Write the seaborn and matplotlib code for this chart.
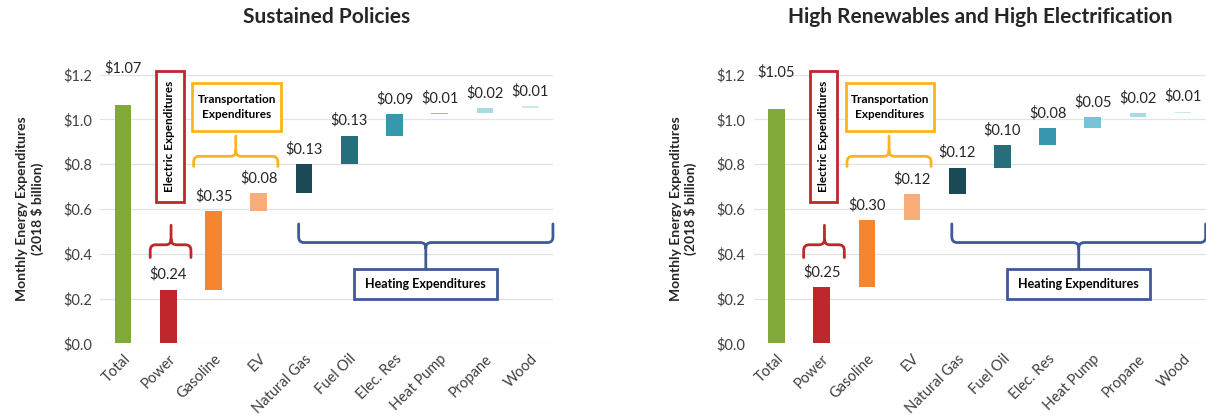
import numpy as np
import pandas as pd
import matplotlib
matplotlib.use("Agg")
import matplotlib.pyplot as plt
import seaborn as sns
from matplotlib.path import Path
from matplotlib.patches import PathPatch, Rectangle

# Données (milliards $ 2018 par mois)
categories = ["Total", "Power", "Gasoline", "EV", "Natural Gas", "Fuel Oil",
              "Elec. Res", "Heat Pump", "Propane", "Wood"]
sustained_vals = [1.066, 0.24, 0.35, 0.08, 0.13, 0.128, 0.094, 0.007, 0.021, 0.008]
highre_vals = [1.048, 0.25, 0.30, 0.117, 0.117, 0.10, 0.078, 0.049, 0.016, 0.008]
titres = ["Sustained Policies", "High Renewables and High Electrification"]
couleurs = ["#80A93A", "#C0272D", "#F5862F", "#F9AD79", "#1B4A56", "#276E7C",
            "#3797AD", "#7AC3D7", "#A8DAE6", "#C9E8F0"]

ROUGE = "#C0272D"
ORANGE = "#FBB41A"
BLEU = "#3F5A97"

sns.set_theme(style="white")
plt.rcParams["font.family"] = ["Lato", "DejaVu Sans"]


def accolade(ax, x0, x1, y, bout, pointe, xm, couleur, rx=0.12, ry=0.025):
    # accolade : barre horizontale, extremites vers "bout", tige vers "pointe"
    s = np.sign(bout - y)
    t = np.sign(pointe - y)
    verts = [(x0, bout), (x0, y + s * ry), (x0, y), (x0 + rx, y),
             (xm - rx, y), (xm, y), (xm, y + t * ry), (xm, pointe),
             (xm, y + t * ry), (xm, y), (xm + rx, y),
             (x1 - rx, y), (x1, y), (x1, y + s * ry), (x1, bout)]
    codes = [Path.MOVETO, Path.LINETO, Path.CURVE3, Path.CURVE3,
             Path.LINETO, Path.CURVE3, Path.CURVE3, Path.LINETO,
             Path.MOVETO, Path.CURVE3, Path.CURVE3,
             Path.LINETO, Path.CURVE3, Path.CURVE3, Path.LINETO]
    ax.add_patch(PathPatch(Path(verts, codes), fill=False, edgecolor=couleur,
                           lw=2.0, clip_on=False, capstyle="round",
                           joinstyle="round"))


def boite(ax, x0, x1, y0, y1, couleur, texte, rot=0, taille=8.5):
    ax.add_patch(Rectangle((x0, y0), x1 - x0, y1 - y0, fill=True, facecolor="white",
                           edgecolor=couleur, lw=2.0, clip_on=False, zorder=5))
    ax.text((x0 + x1) / 2, (y0 + y1) / 2, texte, rotation=rot, ha="center",
            va="center", fontsize=taille, fontweight="bold", color="black",
            linespacing=1.45, zorder=6, clip_on=False)


def waterfall(ax, valeurs, titre):
    df = pd.DataFrame({"cat": categories, "val": valeurs})
    sns.barplot(data=df, x="cat", y="val", hue="cat", palette=couleurs,
                width=0.37, legend=False, ax=ax, saturation=1)

    # bases cumulées des barres
    bas = [0.0, 0.0]
    for v in valeurs[1:-1]:
        bas.append(bas[-1] + v)
    for p in ax.patches:
        i = int(round(p.get_x() + p.get_width() / 2))
        p.set_y(bas[i])
        p.set_height(valeurs[i])
        p.set_edgecolor("none")
        decal = 0.13 if i == 0 else 0.035
        ax.text(i, bas[i] + valeurs[i] + decal, f"${valeurs[i]:.2f}",
                ha="center", va="bottom", fontsize=10.5, color="#262626",
                clip_on=False)

    ax.set_ylim(0, 1.2)
    ax.set_xlim(-0.5, 9.5)
    ax.set_yticks(np.arange(0, 1.21, 0.2))
    ax.set_yticklabels([f"${t:.1f}" for t in np.arange(0, 1.21, 0.2)],
                       fontsize=10.5, color="#404040")
    ax.set_xticks(range(len(categories)))
    ax.set_xticklabels(categories, rotation=45, ha="right",
                       rotation_mode="anchor", fontsize=10.5, color="#404040")
    ax.tick_params(axis="both", length=0, pad=6)
    ax.grid(axis="y", color="#E3E3E3", lw=0.9)
    ax.set_axisbelow(True)
    for sp in ax.spines.values():
        sp.set_visible(False)
    ax.set_xlabel("")
    ax.set_ylabel("Monthly Energy Expenditures\n(2018 $ billion)",
                  fontsize=10, fontweight="bold", labelpad=14)
    ax.set_title(titre, fontsize=15, fontweight="bold", pad=37)

    # annotations
    boite(ax, 0.73, 1.34, 0.633, 1.218, ROUGE, "Electric Expenditures", rot=90)
    accolade(ax, 0.60, 1.50, 0.44, 0.383, 0.527, 1.06, ROUGE)
    boite(ax, 1.53, 3.49, 0.95, 1.163, ORANGE, "Transportation\nExpenditures")
    accolade(ax, 1.56, 3.42, 0.835, 0.79, 0.925, 2.49, ORANGE)
    accolade(ax, 3.88, 9.5, 0.45, 0.533, 0.33, 6.69, BLEU)
    boite(ax, 5.1, 8.27, 0.198, 0.331, BLEU, "Heating Expenditures", taille=9)


fig = plt.figure(figsize=(12.06, 4.17), dpi=100)
ax1 = fig.add_axes([0.0833, 0.1767, 0.3752, 0.6444])
ax2 = fig.add_axes([0.6252, 0.1767, 0.3745, 0.6444])
waterfall(ax1, sustained_vals, titres[0])
waterfall(ax2, highre_vals, titres[1])

fig.savefig("out.png", dpi=100, facecolor="white")
